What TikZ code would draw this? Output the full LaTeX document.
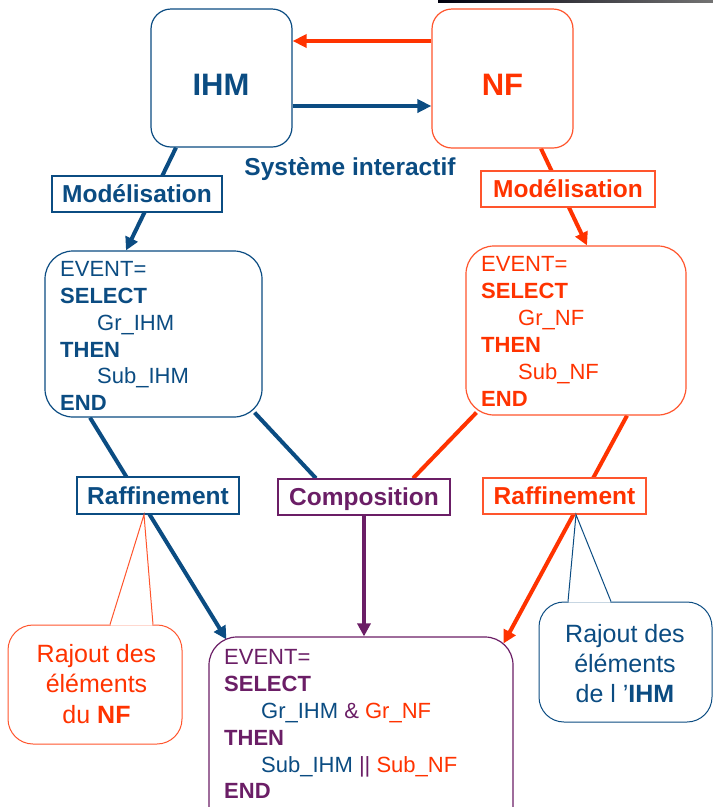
\documentclass[tikz,border=0pt]{standalone}
\usepackage{fontspec}
\setmainfont{Liberation Sans}
\usetikzlibrary{arrows.meta,calc}
\pgfdeclarelayer{background}
\pgfsetlayers{background,main}
\definecolor{cblue}{RGB}{11,76,130}
\definecolor{cred}{RGB}{255,51,0}
\definecolor{credb}{RGB}{255,85,45}
\definecolor{cpurp}{RGB}{107,30,102}
\begin{document}
\begin{tikzpicture}[x=1pt,y=-1pt,
  bigbox/.style={draw, fill=white, line width=1.2pt, rounded corners=20pt, inner sep=0pt},
  evbox/.style={draw, fill=white, line width=1.2pt, rounded corners=28pt, inner sep=0pt},
  callbox/.style={draw, fill=white, line width=1pt, rounded corners=25pt, inner sep=0pt},
  lbl/.style={draw, fill=white, line width=1.3pt, inner sep=0pt, text height=17.5pt, text depth=0pt,
    font=\bfseries\fontsize{24.5}{28}\selectfont},
  evl/.style={anchor=base west, inner sep=0pt, font=\fontsize{22}{26}\selectfont},
  evk/.style={anchor=base west, inner sep=0pt, font=\bfseries\fontsize{22}{26}\selectfont},
  clt/.style={anchor=base, inner sep=0pt, font=\fontsize{25}{30}\selectfont},
  conn/.style={line width=4pt},
  arrowed/.style={-{Triangle[length=13pt,width=13pt]}}
]
\useasboundingbox (0,0) rectangle (713,807);
% top strip
\shade[left color=black!95!blue, right color=black!55] (438,0) rectangle (713,2.5);

% top boxes
\node[bigbox, draw=cblue, minimum width=141pt, minimum height=138pt] (ihm) at (221.5,78) {};
\node[anchor=base, inner sep=0pt, text=cblue, font=\bfseries\fontsize{31}{36}\selectfont] (ihmt) at (221,95) {IHM};
\node[bigbox, draw=credb, minimum width=141pt, minimum height=139pt] (nf) at (502.5,78.5) {};
\node[anchor=base, inner sep=0pt, text=cred, font=\bfseries\fontsize{31}{36}\selectfont] (nft) at (502.5,95) {NF};
\node[anchor=base, inner sep=0pt, text=cblue, font=\bfseries\fontsize{24.5}{28}\selectfont] (sys) at (350,175) {Système interactif};

\draw[line width=3.5pt, cred, -{Triangle[length=14pt,width=13pt]}] ([yshift=37.5pt]nf.west) -- ([yshift=37.5pt]nf.west -| ihm.east);
\draw[line width=4pt, cblue, -{Triangle[length=14pt,width=13pt]}] ([yshift=-28pt]ihm.east) -- ([yshift=-28pt]ihm.east -| nf.west);

% event boxes
\node[evbox, draw=cblue, minimum width=217pt, minimum height=166pt] (evL) at (153.5,334) {};
\node[evbox, draw=credb, minimum width=220pt, minimum height=169pt] (evR) at (576,330.5) {};
\node[evbox, draw=cpurp, minimum width=304pt, minimum height=200pt] (evB) at (361,737) {};

% labels
\node[lbl, draw=cblue, text=cblue, minimum width=170pt, minimum height=36pt] (modL) at (137,194) {Modélisation};
\node[lbl, draw=credb, text=cred, minimum width=174pt, minimum height=36pt] (modR) at (568,189) {Modélisation};
\node[lbl, draw=cblue, text=cblue, minimum width=162pt, minimum height=37pt] (rafL) at (158,495.5) {Raffinement};
\node[lbl, draw=cpurp, text=cpurp, minimum width=172pt, minimum height=36pt] (comp) at (364,497) {Composition};
\node[lbl, draw=credb, text=cred, minimum width=163pt, minimum height=36pt] (rafR) at (564.5,496) {Raffinement};

% connectors
\begin{pgfonlayer}{background}
\draw[conn, cblue, arrowed] ([xshift=-45.5pt]ihm.south) -- ([xshift=-27.5pt]evL.north);
\draw[conn, cred, arrowed] ([xshift=38.5pt]nf.south) -- ([xshift=11pt]evR.north);
\draw[conn, cblue, arrowed] ([xshift=-63.5pt]evL.south) -- ([xshift=18pt,yshift=-3pt]evB.north west);
\draw[conn, cblue] ([xshift=-8pt,yshift=5pt]evL.south east) -- ([xshift=-48pt]comp.north);
\draw[conn, cred] ([xshift=11pt,yshift=3pt]evR.south west) -- ([xshift=49pt]comp.north);
\draw[conn, cpurp, arrowed] (comp.south) -- (comp.south |- evB.north);
\draw[conn, cred, arrowed] ([xshift=51pt]evR.south) -- ([xshift=-10pt,yshift=-7pt]evB.north east);
\end{pgfonlayer}

% left event text
\node[evl, text=cblue] (l1) at (60,276) {EVENT=};
\node[evk, text=cblue] (l2) at (60,303) {SELECT};
\node[evl, text=cblue] (l3) at (97,330) {Gr\_IHM};
\node[evk, text=cblue] (l4) at (60,357) {THEN};
\node[evl, text=cblue] (l5) at (97,383) {Sub\_IHM};
\node[evk, text=cblue] (l6) at (60,410) {END};

% right event text
\node[evl, text=cred] (r1) at (481,271) {EVENT=};
\node[evk, text=cred] (r2) at (481,298) {SELECT};
\node[evl, text=cred] (r3) at (518,325) {Gr\_NF};
\node[evk, text=cred] (r4) at (481,352) {THEN};
\node[evl, text=cred] (r5) at (518,379) {Sub\_NF};
\node[evk, text=cred] (r6) at (481,406) {END};

% bottom event text
\node[evl, text=cpurp] (b1) at (224,664) {EVENT=};
\node[evk, text=cpurp] (b2) at (224,691) {SELECT};
\node[evl] (b3) at (261,718) {\textcolor{cblue}{Gr\_IHM} \textcolor{cpurp}{\&} \textcolor{cred}{Gr\_NF}};
\node[evk, text=cpurp] (b4) at (224,745) {THEN};
\node[evl] (b5) at (261,772) {\textcolor{cblue}{Sub\_IHM} \textcolor{cpurp}{||} \textcolor{cred}{Sub\_NF}};
\node[evk, text=cpurp] (b6) at (224,798) {END};

% left callout
\node[callbox, draw=credb, minimum width=174pt, minimum height=119pt] (cL) at (95,684.5) {};
\fill[white] ([xshift=15.6pt,yshift=-1.2pt]cL.north) -- ([xshift=-14pt]rafL.south) -- ([xshift=57.4pt,yshift=-1.2pt]cL.north) -- cycle;
\draw[credb, line width=1pt, line join=miter] ([xshift=15pt]cL.north) -- ([xshift=-14pt]rafL.south) -- ([xshift=58pt]cL.north);
\node[clt, text=cred] (cL1) at (96.5,662) {Rajout des};
\node[clt, text=cred] (cL2) at (96.5,692) {éléments};
\node[clt, text=cred] (cL3) at (96.5,723) {du \textbf{NF}};

% right callout
\node[callbox, draw=cblue, minimum width=173pt, minimum height=120pt] (cR) at (625.5,662) {};
\fill[white] ([xshift=-57pt,yshift=-1.2pt]cR.north) -- ([xshift=11.5pt]rafR.south) -- ([xshift=-15pt,yshift=-1.2pt]cR.north) -- cycle;
\draw[cblue, line width=1pt, line join=miter] ([xshift=-57.5pt]cR.north) -- ([xshift=11.5pt]rafR.south) -- ([xshift=-14.5pt]cR.north);
\node[clt, text=cblue] (cR1) at (625,642) {Rajout des};
\node[clt, text=cblue] (cR2) at (625,672) {éléments};
\node[clt, text=cblue] (cR3) at (625,702) {de l ’\textbf{IHM}};
\end{tikzpicture}
\end{document}
